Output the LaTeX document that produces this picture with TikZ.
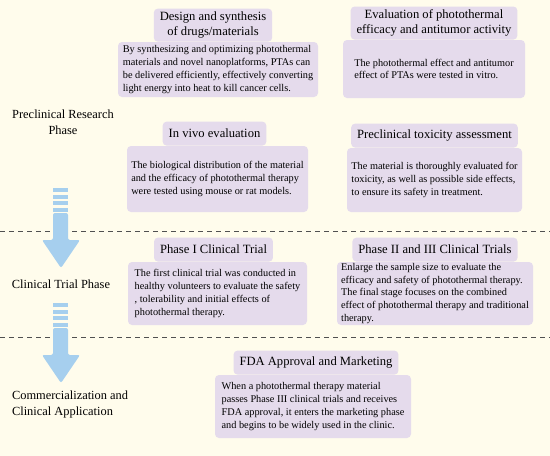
\documentclass[tikz,border=0pt]{standalone}
\usepackage{fontspec}
\setmainfont{Liberation Serif}
\usetikzlibrary{positioning}
\definecolor{bgcream}{RGB}{255,252,236}
\definecolor{boxpurple}{RGB}{229,219,236}
\definecolor{arrowblue}{RGB}{166,207,238}
\definecolor{dashgray}{RGB}{80,80,80}
\tikzset{
  bodybox/.style={fill=boxpurple, rounded corners=4pt, align=left, inner sep=0pt,
    font=\fontsize{10.3}{12.7}\selectfont},
  titlebox/.style={fill=boxpurple, rounded corners=4pt, align=center, inner xsep=6pt,
    inner ysep=3.5pt, minimum height=24pt, font=\fontsize{12.6}{14.5}\selectfont},
  phaselabel/.style={font=\fontsize{12.4}{16}\selectfont},
  dashline/.style={draw=dashgray, dash pattern=on 5pt off 4pt, line width=0.6pt},
}

\begin{document}
\begin{tikzpicture}[x=1pt, y=-1pt]
          \fill[bgcream] (0,0) rectangle (550,456);
          \useasboundingbox (0,0) rectangle (550,456);

          \draw[dashline] (0,231) -- (550,231);
          \draw[dashline] (0,337) -- (550,337);

          \node[phaselabel, align=center] (pre) at (63,122.5) {Preclinical Research\\Phase};
          \node[phaselabel] (clin) at (61,284) {Clinical Trial Phase};
          \node[phaselabel, align=left, anchor=west] (comm) at (8.5,405) {Commercialization and\\Clinical Application};

          \foreach \dy in {0,115}{
            \foreach \s in {0,6.5,13,19.5}
              \fill[arrowblue] (53,188+\dy+\s) rectangle (68,192+\dy+\s);
            \fill[arrowblue, rounded corners=2pt] (53,213+\dy) -- (68,213+\dy) -- (68,240+\dy)
              -- (80,240+\dy) -- (61,268+\dy) -- (42,240+\dy) -- (53,240+\dy) -- cycle;
          }

          \node[bodybox, minimum width=200pt, minimum height=55pt] (designtxt) at (218,69.5)
            {By synthesizing and optimizing photothermal\\materials and novel nanoplatforms, PTAs can\\be delivered efficiently, effectively converting\\light energy into heat to kill cancer cells.};
          \node[titlebox, above=0pt of designtxt, xshift=-5pt] (design) {Design and synthesis\\of drugs/materials};

          \node[bodybox, minimum width=182pt, minimum height=58pt] (evaltxt) at (434,69)
            {The photothermal effect and antitumor\\effect of PTAs were tested in vitro.};
          \node[titlebox, above=0pt of evaltxt] (eval) {Evaluation of photothermal\\efficacy and antitumor activity};

          \node[bodybox, minimum width=181pt, minimum height=66pt] (vivotxt) at (217.5,179)
            {The biological distribution of the material\\and the efficacy of photothermal therapy\\were tested using mouse or rat models.};
          \node[titlebox, above=0pt of vivotxt, xshift=-3pt] (vivo) {In vivo evaluation};

          \node[bodybox, minimum width=175pt, minimum height=64pt] (toxtxt) at (434.5,180)
            {The material is thoroughly evaluated for\\toxicity, as well as possible side effects,\\to ensure its safety in treatment.};
          \node[titlebox, above=0pt of toxtxt] (tox) {Preclinical toxicity assessment};

          \node[bodybox, minimum width=179pt, minimum height=63pt] (phaseItxt) at (217.5,293.5)
            {The first clinical trial was conducted in\\healthy volunteers to evaluate the safety\\, tolerability and initial effects of\\photothermal therapy.};
          \node[titlebox, above=0pt of phaseItxt, xshift=-4pt] (phaseI) {Phase I Clinical Trial};

          \node[bodybox, minimum width=196pt, minimum height=63pt] (phaseIItxt) at (435,293.5)
            {Enlarge the sample size to evaluate the\\efficacy and safety of photothermal therapy.\\The final stage focuses on the combined\\effect of photothermal therapy and traditional\\therapy.};
          \node[titlebox, above=0pt of phaseIItxt] (phaseII) {Phase II and III Clinical Trials};

          \node[bodybox, minimum width=196pt, minimum height=63pt] (fdatxt) at (313,406.5)
            {When a photothermal therapy material\\passes Phase III clinical trials and receives\\FDA approval, it enters the marketing phase\\and begins to be widely used in the clinic.};
          \node[titlebox, above=0pt of fdatxt, xshift=3pt] (fda) {FDA Approval and Marketing};
        \end{tikzpicture}
\end{document}
